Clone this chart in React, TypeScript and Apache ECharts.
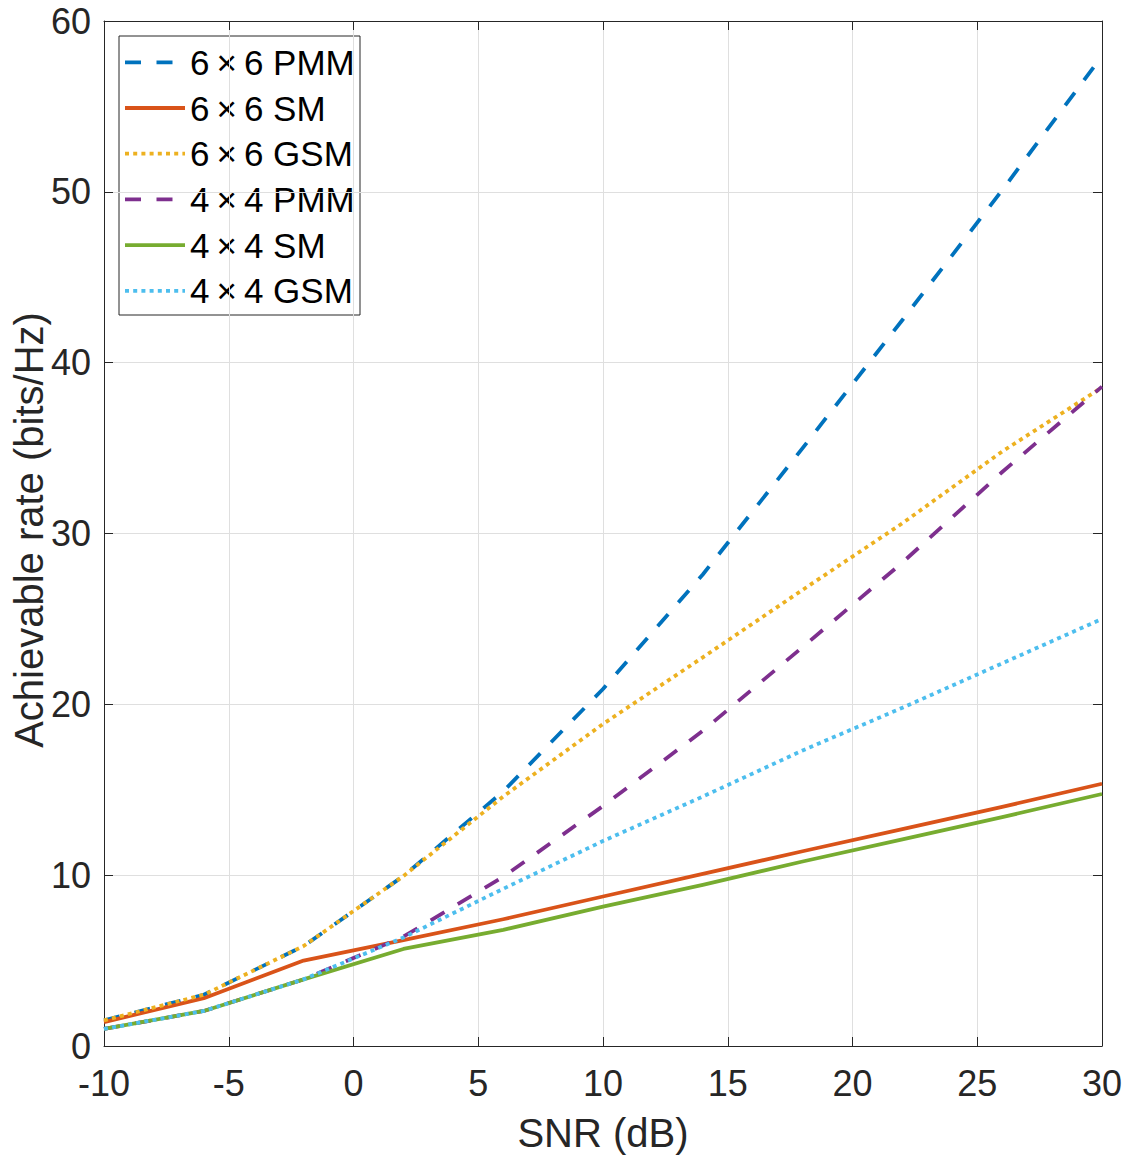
import React, { useEffect, useRef } from "react";
import * as echarts from "echarts";

const snr = [-10, -6, -2, 2, 6, 10, 14, 18, 22, 26, 30];

const pmm6 = [1.5, 3.0, 5.85, 9.95, 14.9, 20.9, 27.6, 35.0, 42.5, 50.1, 57.95];
const sm6 = [1.4, 2.8, 5.0, 6.2, 7.42, 8.75, 10.07, 11.4, 12.7, 14.0, 15.35];
const gsm6 = [1.5, 3.0, 5.85, 9.95, 14.6, 18.85, 22.75, 26.7, 30.6, 34.8, 38.55];
const pmm4 = [1.0, 2.05, 3.9, 6.4, 9.9, 14.05, 18.45, 23.35, 28.3, 33.6, 38.6];
const sm4 = [1.0, 2.05, 3.9, 5.68, 6.8, 8.16, 9.43, 10.8, 12.1, 13.4, 14.75];
const gsm4 = [1.0, 2.05, 3.9, 6.35, 9.2, 12.0, 14.6, 17.3, 19.8, 22.4, 25.0];

const seriesNames = [
  "6\u2009×\u20096 PMM",
  "6\u2009×\u20096 SM",
  "6\u2009×\u20096 GSM",
  "4\u2009×\u20094 PMM",
  "4\u2009×\u20094 SM",
  "4\u2009×\u20094 GSM",
];
const seriesValues = [pmm6, sm6, gsm6, pmm4, sm4, gsm4];
const seriesColors = ["#0072BD", "#D95319", "#EDB120", "#7E2F8E", "#77AC30", "#4DBEEE"];
const DASH = [16, 15.5];
const DOT = [4, 4.2];
const seriesDash: (number[] | null)[] = [DASH, null, DOT, DASH, null, DOT];

const xTicks = { min: -10, max: 30, interval: 5 };
const yTicks = { min: 0, max: 60, interval: 10 };

const FONT = "'Liberation Sans', Arial, Helvetica, sans-serif";
const AXIS_COLOR = "#262626";
const LINE_W = 3.8;

export default function App() {
  const ref = useRef<HTMLDivElement>(null);

  useEffect(() => {
    if (!ref.current) return;
    const chart = echarts.init(ref.current, undefined, { renderer: "svg" });

    const gridLeft = 104;
    const gridTop = 21;
    const gridW = 998;
    const gridH = 1025;

    const axisCommon = {
      type: "value" as const,
      axisLine: { show: true, onZero: false, lineStyle: { color: AXIS_COLOR, width: 1 } },
      axisTick: { show: true, inside: true, length: 9, lineStyle: { color: AXIS_COLOR, width: 1 } },
      axisLabel: {
        color: AXIS_COLOR,
        fontSize: 36,
        fontFamily: FONT,
      },
    };

    const legendX = 119;
    const legendY = 36;
    const legendW = 241;
    const legendH = 279;
    const rowStart = 62.3;
    const rowPitch = 45.7;

    const legendChildren: any[] = [
      {
        type: "rect",
        shape: { x: legendX, y: legendY, width: legendW, height: legendH },
        style: { fill: "#ffffff", stroke: AXIS_COLOR, lineWidth: 1 },
      },
    ];
    seriesNames.forEach((name, i) => {
      const cy = rowStart + i * rowPitch;
      legendChildren.push({
        type: "line",
        shape: { x1: 125, y1: cy, x2: 185, y2: cy },
        style: {
          stroke: seriesColors[i],
          lineWidth: LINE_W,
          lineDash: seriesDash[i] || null,
          lineCap: "butt",
        },
      });
      legendChildren.push({
        type: "text",
        x: 190,
        y: cy,
        style: {
          text: name,
          fill: "#000000",
          fontSize: 35,
          fontFamily: FONT,
          textAlign: "left",
          textVerticalAlign: "middle",
        },
      });
    });

    const option: any = {
      animation: false,
      backgroundColor: "#ffffff",
      grid: { left: gridLeft, top: gridTop, width: gridW, height: gridH, containLabel: false },
      xAxis: [
        {
          ...axisCommon,
          ...xTicks,
          position: "bottom",
          axisLabel: { ...axisCommon.axisLabel, margin: 19 },
          splitLine: { show: true, lineStyle: { color: "#dfdfdf", width: 1 } },
        },
        {
          ...axisCommon,
          ...xTicks,
          position: "top",
          axisLabel: { show: false },
          splitLine: { show: false },
        },
      ],
      yAxis: [
        {
          ...axisCommon,
          ...yTicks,
          position: "left",
          axisLabel: { ...axisCommon.axisLabel, margin: 13 },
          splitLine: { show: true, lineStyle: { color: "#dfdfdf", width: 1 } },
        },
        {
          ...axisCommon,
          ...yTicks,
          position: "right",
          axisLabel: { show: false },
          splitLine: { show: false },
        },
      ],
      series: seriesNames.map((name, i) => ({
        name,
        type: "line",
        xAxisIndex: 0,
        yAxisIndex: 0,
        data: snr.map((x, j) => [x, seriesValues[i][j]]),
        symbol: "none",
        showSymbol: false,
        clip: true,
        lineStyle: {
          color: seriesColors[i],
          width: LINE_W,
          type: seriesDash[i] || "solid",
          cap: "butt",
          join: "round",
        },
        emphasis: { disabled: true },
      })),
      graphic: [
        {
          type: "text",
          x: 603,
          y: 1133,
          style: {
            text: "SNR (dB)",
            fill: AXIS_COLOR,
            fontSize: 40,
            fontFamily: FONT,
            textAlign: "center",
            textVerticalAlign: "middle",
          },
        },
        {
          type: "text",
          x: 29,
          y: 530,
          rotation: Math.PI / 2,
          style: {
            text: "Achievable rate (bits/Hz)",
            fill: AXIS_COLOR,
            fontSize: 40,
            fontFamily: FONT,
            textAlign: "center",
            textVerticalAlign: "middle",
          },
        },
        {
          type: "group",
          z: 100,
          children: legendChildren,
        },
      ],
    };

    chart.setOption(option);
    return () => {
      chart.dispose();
    };
  }, []);

  return (
    <div
      ref={ref}
      style={{ position: "fixed", left: 0, top: 0, width: 1126, height: 1158, background: "#ffffff" }}
    />
  );
}
